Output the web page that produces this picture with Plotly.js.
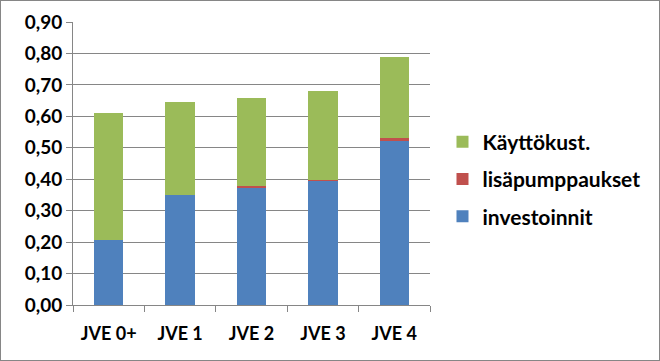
<!DOCTYPE html>
<html><head><meta charset="utf-8">
<script src="https://cdn.plot.ly/plotly-3.0.1.min.js"></script>
<style>
html,body{margin:0;padding:0;background:#fff;}
#chart{width:658px;height:359px;border:1px solid #868686;}
</style></head>
<body><div id="chart"></div>
<script>
const categories = ["JVE 0+", "JVE 1", "JVE 2", "JVE 3", "JVE 4"];
const investoinnit = [0.207, 0.350, 0.373, 0.393, 0.522];
const lisapumppaukset = [0.000, 0.000, 0.004, 0.004, 0.010];
const kayttokust = [0.403, 0.296, 0.281, 0.285, 0.257];
const yTicks = [0, 0.1, 0.2, 0.3, 0.4, 0.5, 0.6, 0.7, 0.8, 0.9];

const fam = "Lato, 'Open Sans', sans-serif";
const traces = [
  {type: "bar", name: "investoinnit", x: categories, y: investoinnit, marker: {color: "#4F81BD"}, legendgroup: "c", legendrank: 3},
  {type: "bar", name: "lisäpumppaukset", x: categories, y: lisapumppaukset, marker: {color: "#C0504D"}, legendgroup: "b", legendrank: 2},
  {type: "bar", name: "Käyttökust.", x: categories, y: kayttokust, marker: {color: "#9BBB59"}, legendgroup: "a", legendrank: 1}
];
const layout = {
  width: 658, height: 359,
  margin: {l: 72, r: 229, t: 21, b: 55},
  barmode: "stack",
  bargap: 0.59,
  separators: ", ",
  paper_bgcolor: "#fff", plot_bgcolor: "#fff",
  font: {family: fam, size: 17, color: "#000"},
  showlegend: true,
  legend: {x: 1.035, xanchor: "left", y: 0.445, yanchor: "middle",
           traceorder: "grouped", tracegroupgap: 7,
           font: {family: fam, size: 21, color: "#000", weight: "bold"}},
  xaxis: {type: "category", showline: true, linecolor: "#868686", linewidth: 1,
          ticks: "outside", tickson: "boundaries", ticklen: 6, tickcolor: "#868686",
          ticklabelstandoff: 12,
          tickfont: {family: fam, size: 18, color: "#000", weight: "bold"},
          showgrid: false},
  yaxis: {range: [0, 0.9], tickvals: yTicks, tickformat: ".2f",
          showline: true, linecolor: "#868686", linewidth: 1,
          ticks: "outside", ticklen: 6, tickcolor: "#868686",
          gridcolor: "#868686", gridwidth: 1, zeroline: false,
          tickfont: {family: fam, size: 19, color: "#000", weight: "bold"}}
};
Plotly.newPlot("chart", traces, layout, {displayModeBar: false, staticPlot: true});
</script></body></html>
